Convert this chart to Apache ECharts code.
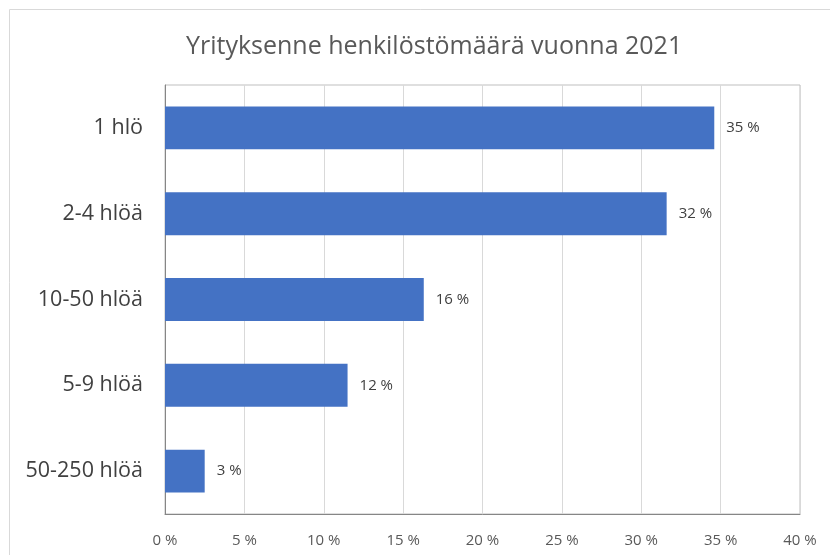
<!DOCTYPE html>
<html lang="fi">
<head>
<meta charset="UTF-8">
<title>Yrityksenne henkilöstömäärä vuonna 2021</title>
<script src="https://cdn.jsdelivr.net/npm/echarts@6/dist/echarts.min.js"></script>
<style>
  * { margin: 0; padding: 0; }
  html, body { width: 100%; height: 100%; background: #fff; }
  #main { width: 830px; height: 555px; }
</style>
</head>
<body>
<div id="main"></div>
<script>
var categories = ['1 hlö', '2-4 hlöä', '10-50 hlöä', '5-9 hlöä', '50-250 hlöä'];
var shares = [34.6, 31.6, 16.3, 11.5, 2.5];
var xTicks = [0, 5, 10, 15, 20, 25, 30, 35, 40];

var font = '"Open Sans", sans-serif';
var chart = echarts.init(document.getElementById('main'));

var option = {
  animation: false,
  textStyle: { fontFamily: font },
  graphic: [{
    type: 'rect',
    shape: { x: 9.5, y: 9.5, width: 830, height: 560 },
    style: { fill: 'none', stroke: '#d9d9d9', lineWidth: 1 },
    silent: true
  }],
  title: {
    text: 'Yrityksenne henkilöstömäärä vuonna 2021',
    left: 181,
    top: 29,
    textStyle: { fontFamily: font, fontSize: 25, fontWeight: 'normal', color: '#595959' }
  },
  grid: {
    left: 165, right: 30, top: 85, bottom: 41,
    show: true, borderColor: '#bfbfbf', borderWidth: 1
  },
  xAxis: {
    type: 'value',
    min: 0, max: 40, interval: 5,
    axisLine: { show: true, lineStyle: { color: '#868686' } },
    axisTick: { show: false },
    splitLine: { lineStyle: { color: '#d9d9d9' } },
    axisLabel: {
      margin: 19, fontSize: 15, color: '#595959', fontFamily: font,
      formatter: function (v) { return xTicks.indexOf(v) >= 0 ? v + ' %' : ''; }
    }
  },
  yAxis: {
    type: 'category',
    inverse: true,
    data: categories,
    axisLine: { show: true, lineStyle: { color: '#868686' } },
    axisTick: { show: false },
    axisLabel: { margin: 22, fontSize: 21.5, color: '#404040', fontFamily: font }
  },
  series: [{
    type: 'bar',
    data: shares,
    barCategoryGap: '50%',
    itemStyle: { color: '#4472c4' },
    label: {
      show: true, position: 'right', distance: 12,
      fontSize: 15, color: '#404040', fontFamily: font,
      formatter: function (p) { return Math.round(p.value) + ' %'; }
    }
  }]
};
chart.setOption(option);
</script>
</body>
</html>
